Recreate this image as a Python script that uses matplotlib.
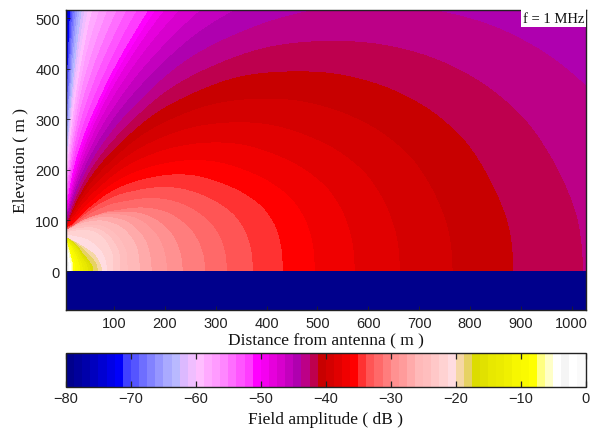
import numpy as np
import matplotlib
matplotlib.use("Agg")
import matplotlib.pyplot as plt
from matplotlib.colors import ListedColormap

# colour bands of the scale, -80 dB to 0 dB, 64 steps
band_rgb = [
    (0,0,140),(0,0,155),(0,0,170),(0,0,190),(0,0,210),(0,0,230),(0,0,250),
    (64,64,255),(85,85,255),(110,110,255),(130,130,255),(150,150,255),(170,170,255),(185,185,255),
    (220,185,255),(240,190,255),(255,190,255),(255,170,255),(255,155,255),(255,135,255),(255,110,255),
    (255,85,255),(255,60,255),(255,0,255),(245,0,240),(230,0,220),(215,0,205),(195,0,190),(175,0,175),
    (188,0,135),(190,0,78),(200,0,0),(212,0,0),(225,0,0),(240,0,0),(255,0,0),(255,50,50),(255,85,85),
    (255,105,105),(255,125,125),(255,145,145),(255,155,155),(255,170,170),(255,185,185),(255,190,190),
    (255,200,200),(255,210,210),(255,220,225),(245,215,165),(230,210,100),(220,220,0),(225,225,0),
    (232,232,0),(235,235,0),(240,240,0),(247,247,0),(250,250,0),(255,255,0),(255,255,130),(255,255,200),
    (255,255,255),(245,245,245),(255,255,255),(250,250,250),
]
# ground-level outer radius (m) of each band; index matches band_rgb
band_radius = [
    77150,66800,57850,50090,43370,37550,32500,28150,24370,21100,18270,15820,13700,11860,10270,8893,
    7700,6666,5771,4997,4326,3746,3243,2808,2431,2105,1822,1578,1366,1183,1023,886,766,662,573,495,
    432,373,322,279,235,204,174,151,127,112,98,86,76,68,59,54,49,44,39,34,29,24,19.5,17.5,15,12,9,6,
]
# contour reach relative to its ground radius, per elevation angle
angle_deg = [0, 6, 12, 18, 24, 30, 36, 42, 48, 54, 60, 66, 72, 78, 84, 87, 89, 90]
class_radius = [16, 40, 59, 76, 98, 174, 279, 432, 886, 2000, 2808, 10000, 40000]
class_reach = [
    [1, 1, 1, 1.05, 1.1, 1.15, 1.25, 1.35, 1.45, 1.55, 1.75, 2, 2.35, 2.75, 3.6, 4.0, 4.2, 4.2],
    [1, 1, 1, 1, 1, 1, 1, 1.03, 1.1, 1.15, 1.2, 1.28, 1.35, 1.45, 1.65, 1.7, 1.7, 1.7],
    [1, 1, .98, .95, .92, .9, .88, .88, .9, .93, .96, 1, 1.03, 1.08, 1.13, 1.13, 1.13, 1.13],
    [1, 1, .98, .96, .94, .91, .88, .85, .83, .82, .82, .82, .83, .85, .87, .88, .88, .88],
    [1, 1, 1.02, 1.05, 1.05, 1.05, 1.05, 1.04, 1.03, 1.0, .95, .9, .86, .82, .78, .78, .78, .78],
    [1, 1, 1, 1, .985, .96, .93, .88, .82, .76, .69, .63, .57, .51, .47, .47, .47, .47],
    [1, .998, .98, .95, .9, .84, .76, .67, .58, .52, .45, .4, .35, .31, .28, .28, .28, .28],
    [1, 1, .99, .955, .89, .815, .745, .66, .57, .49, .41, .33, .27, .22, .205, .2, .2, .2],
    [1, .995, .97, .94, .89, .825, .75, .665, .585, .49, .405, .31, .24, .17, .11, .095, .09, .09],
    [1, .995, .97, .93, .88, .82, .74, .66, .57, .49, .41, .31, .22, .145, .08, .05, .04, .04],
    [1, .995, .97, .93, .88, .82, .74, .66, .57, .49, .4, .29, .19, .125, .075, .045, .025, .02],
    [1, .995, .97, .93, .88, .82, .74, .66, .57, .49, .4, .29, .19, .125, .075, .037, .012, .004],
    [1, .995, .97, .93, .88, .82, .74, .66, .57, .49, .4, .29, .19, .125, .075, .037, .012, .002],
]
x_ticks = [100, 200, 300, 400, 500, 600, 700, 800, 900, 1000]
y_ticks = [0, 100, 200, 300, 400, 500]
cbar_ticks = [-80, -70, -60, -50, -40, -30, -20, -10, 0]

SERIF = "Liberation Serif"
SANS = "Liberation Sans"

cmap = ListedColormap(np.array(band_rgb) / 255.0)
fig = plt.figure(figsize=(6, 4.35), dpi=100)
W, H = 600.0, 435.0
ax = fig.add_axes([65.5 / W, 1 - 311 / H, 520 / W, 300 / H])
cax = fig.add_axes([66 / W, 1 - 388 / H, 519.5 / W, 34 / H])

xv = np.linspace(4.6, 1027, 1560)
yv = np.linspace(-77, 516, 900)
X, Y = np.meshgrid(xv, yv)
rr = np.hypot(X, Y)
aa = np.degrees(np.arctan2(np.maximum(Y, 0), X))
Z = np.zeros(X.shape)
log_cls = np.log(class_radius)
reach = np.array(class_reach)
n_band = len(band_radius)
fine = np.arange(0, 90.01, 0.25)
kernel = np.hanning(33)
kernel /= kernel.sum()
for i in range(n_band):
    lr = np.log(band_radius[i])
    curve = [np.interp(lr, log_cls, reach[:, k]) for k in range(len(angle_deg))]
    raw = np.interp(fine, angle_deg, curve)
    pad = np.concatenate([raw[16:0:-1], raw, np.full(16, raw[-1])])
    soft = np.convolve(pad, kernel, mode="same")[16:-16]
    blend = np.clip((84 - fine) / 8, 0, 1)
    smooth = blend * soft + (1 - blend) * raw
    limit = band_radius[i] * np.interp(aa, fine, smooth)
    Z[rr <= limit] = -80 + (i + 0.5) * 80 / n_band
Z[Y < 0] = -79.5

mesh = ax.pcolormesh(X, Y, Z, cmap=cmap, vmin=-80, vmax=0, shading="nearest", rasterized=True)
ax.set_xlim(4.6, 1027)
ax.set_ylim(-77, 516)
ax.set_xticks(x_ticks)
ax.set_yticks(y_ticks)
ax.tick_params(direction="in", length=3, width=0.6, color="#222222", labelsize=10.5, pad=4)
for lab in ax.get_xticklabels() + ax.get_yticklabels():
    lab.set_fontfamily(SANS)
    lab.set_color("#222222")
ax.set_xlabel("Distance from antenna ( m )", family=SERIF, fontsize=12.5, labelpad=2, color="#111111")
ax.set_ylabel("Elevation ( m )", family=SERIF, fontsize=12.5, labelpad=5, color="#111111")
for s in ax.spines.values():
    s.set_linewidth(1.0)
    s.set_color("#222222")
ax.text(1024, 513, "f = 1 MHz", family=SERIF, fontsize=10.5, ha="right", va="top", color="#111111",
        bbox=dict(facecolor="white", edgecolor="none", pad=1.5))

cb = fig.colorbar(mesh, cax=cax, orientation="horizontal")
cb.set_ticks(cbar_ticks)
cb.ax.tick_params(direction="in", length=4, width=0.9, color="#222222", top=True, labelsize=10.5, pad=3)
for lab in cb.ax.get_xticklabels():
    lab.set_fontfamily(SANS)
    lab.set_color("#222222")
cb.set_label("Field amplitude ( dB )", family=SERIF, fontsize=12.5, labelpad=4, color="#111111")
cb.outline.set_linewidth(1.0)
cb.outline.set_edgecolor("#222222")
fig.savefig("out.png", dpi=100)
